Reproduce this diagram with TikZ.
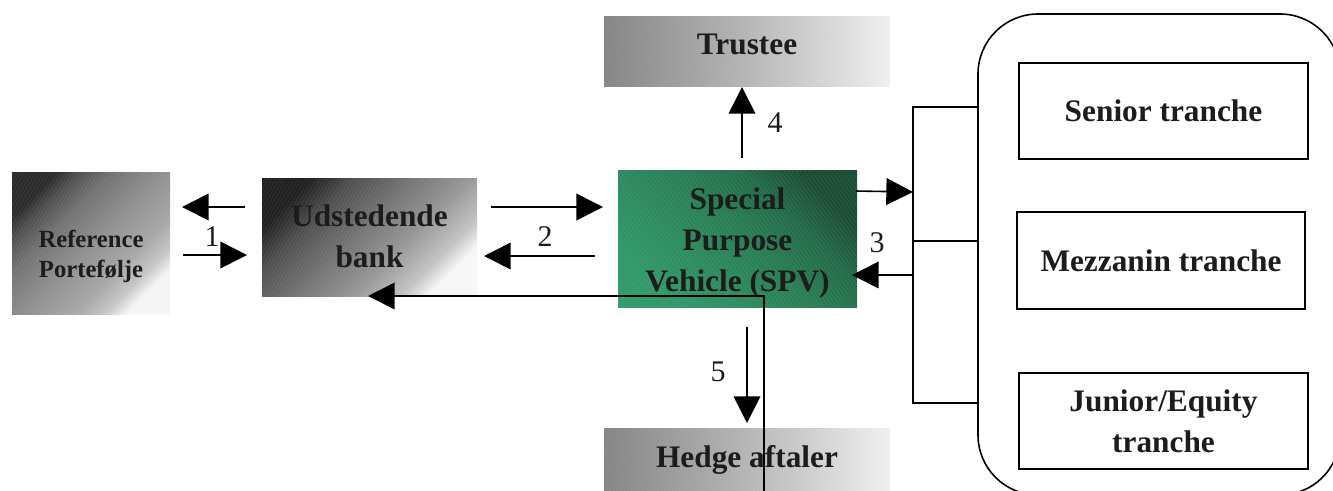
\documentclass[tikz,border=0pt]{standalone}
\usepackage{fontspec}
\setmainfont{Liberation Serif}
\usetikzlibrary{arrows.meta,patterns.meta}
\definecolor{txt}{HTML}{1C1C1C}
\pgfdeclareverticalshading{refshade}{100bp}{color(0bp)=(white!96!black); color(25bp)=(white!96!black); color(30bp)=(white!78!black); color(37bp)=(white!66!black); color(50bp)=(white!56!black); color(62bp)=(white!45!black); color(70bp)=(white!31!black); color(75bp)=(white!17!black); color(100bp)=(white!17!black)}
\pgfdeclareverticalshading{bankshade}{100bp}{color(0bp)=(white!97!black); color(25bp)=(white!97!black); color(31bp)=(white!76!black); color(42bp)=(white!58!black); color(55bp)=(white!44!black); color(66bp)=(white!31!black); color(75bp)=(white!13!black); color(100bp)=(white!13!black)}
\pgfdeclarehorizontalshading{trshade}{100bp}{color(0bp)=(white!52!black); color(25bp)=(white!52!black); color(50bp)=(white!71!black); color(75bp)=(white!94!black); color(100bp)=(white!94!black)}
\definecolor{sA}{HTML}{31996A}
\definecolor{sB}{HTML}{2A8056}
\definecolor{sC}{HTML}{246B4A}
\definecolor{sD}{HTML}{1C4C35}
\pgfdeclareverticalshading{spvshade}{100bp}{color(0bp)=(sA); color(25bp)=(sA); color(50bp)=(sB); color(64bp)=(sC); color(75bp)=(sD); color(100bp)=(sD)}
\begin{document}
\begin{tikzpicture}[x=0.75pt,y=-0.75pt,
  big/.style={font=\bfseries\fontsize{23.5}{30.75}\selectfont, text=txt, align=center, inner sep=0pt},
  small/.style={font=\bfseries\fontsize{18.5}{22.5}\selectfont, text=txt, align=center, inner sep=0pt},
  num/.style={font=\fontsize{22.5}{27}\selectfont, text=txt, inner sep=0pt},
  gbox/.style={inner sep=0pt, draw=none},
  hatch/.style={postaction={opacity=0.1, pattern={Lines[angle=#1,distance=2.4pt,line width=0.35pt]}, pattern color=white}},
  tbox/.style={draw, fill=white, line width=1.1pt, inner sep=0pt, font=\bfseries\fontsize{23.5}{30.75}\selectfont, text=txt, align=center},
  conn/.style={line width=1.2pt},
  arr/.style={conn, -{Triangle[length=20pt,width=20pt]}},
]
\useasboundingbox (0,0) rectangle (1333,490);
\clip (0,0) rectangle (1333,490);
% gradient boxes
\node[gbox, minimum width=118.5pt, minimum height=106.5pt, shading=refshade, shading angle=45, hatch=60] (ref) at (91,243) {};
\node[small] (reftext) at (91,256) {Reference\\Portefølje};
\node[gbox, minimum width=161.25pt, minimum height=88.5pt, shading=bankshade, shading angle=45, hatch=60] (bank) at (369.5,237) {};
\node[big] (banktext) at (369.5,236) {Udstedende\\bank};
\node[gbox, minimum width=179.25pt, minimum height=102.75pt, shading=spvshade, shading angle=-45, hatch=-55] (spv) at (737.5,238.5) {};
\node[big] (spvtext) at (737.5,243) {Special\\Purpose\\Vehicle (SPV)};
\node[gbox, minimum width=214.5pt, minimum height=52.5pt, shading=trshade, hatch=60] (trustee) at (747,51) {};
\node[big] (trusteetext) at (747,44.5) {Trustee};
\node[gbox, minimum width=214.5pt, minimum height=52.5pt, shading=trshade, hatch=60] (hedge) at (747,463) {};
\node[big] (hedgetext) at (747,459.5) {Hedge aftaler};
% tranche group
\node[draw, line width=1.2pt, rounded corners=45pt, minimum width=271.5pt, minimum height=360.75pt, inner sep=0pt] (group) at (1159,254.5) {};
\node[tbox, minimum width=216.75pt, minimum height=72pt] (senior) at (1163.5,111) {Senior tranche};
\node[tbox, minimum width=216pt, minimum height=72.75pt] (mezz) at (1161,260.5) {Mezzanin tranche};
\node[tbox, minimum width=216.75pt, minimum height=72pt] (junior) at (1163.5,421) {Junior/Equity\\tranche};
% bracket
\coordinate (bt) at (913,107);
\coordinate (bm) at (913,241);
\coordinate (bb) at (913,403);
\draw[conn] (group.west |- bt) -- (bt) -- (bb) -- (group.west |- bb);
\draw[conn] (bm) -- (group.west |- bm);
% number labels
\node[num] (n1) at (212,237) {1};
\node[num] (n2) at (545,237) {2};
\node[num] (n3) at (877,243) {3};
\node[num] (n4) at (775,123) {4};
\node[num] (n5) at (718,372) {5};
% arrows 1
\coordinate (a1s) at (245,207); \coordinate (a1e) at (182,207);
\coordinate (b1s) at (183,255); \coordinate (b1e) at (247,255);
\draw[arr] (a1s) -- (a1e);
\draw[arr] (b1s) -- (b1e);
% arrows 2
\coordinate (a2s) at (491,207); \coordinate (a2e) at (603,207);
\coordinate (b2s) at (595,256); \coordinate (b2e) at (484,256);
\draw[arr] (a2s) -- (a2e);
\draw[arr] (b2s) -- (b2e);
% arrows 3
\coordinate (a3s) at (856,191); \coordinate (a3e) at (913,192);
\coordinate (b3s) at (913,275); \coordinate (b3e) at (852,275);
\draw[arr] (a3s) -- (a3e);
\draw[arr] (b3s) -- (b3e);
% arrow 4
\coordinate (a4s) at (742,158); \coordinate (a4e) at (742,87);
\draw[arr] (a4s) -- (a4e);
% arrow 5
\coordinate (a5s) at (747,327); \coordinate (a5e) at (747,423);
\draw[arr] (a5s) -- (a5e);
% long return line
\coordinate (rs) at (764,500); \coordinate (rc) at (764,296); \coordinate (re) at (368,296);
\draw[arr] (rs) -- (rc) -- (re);
\end{tikzpicture}
\end{document}
